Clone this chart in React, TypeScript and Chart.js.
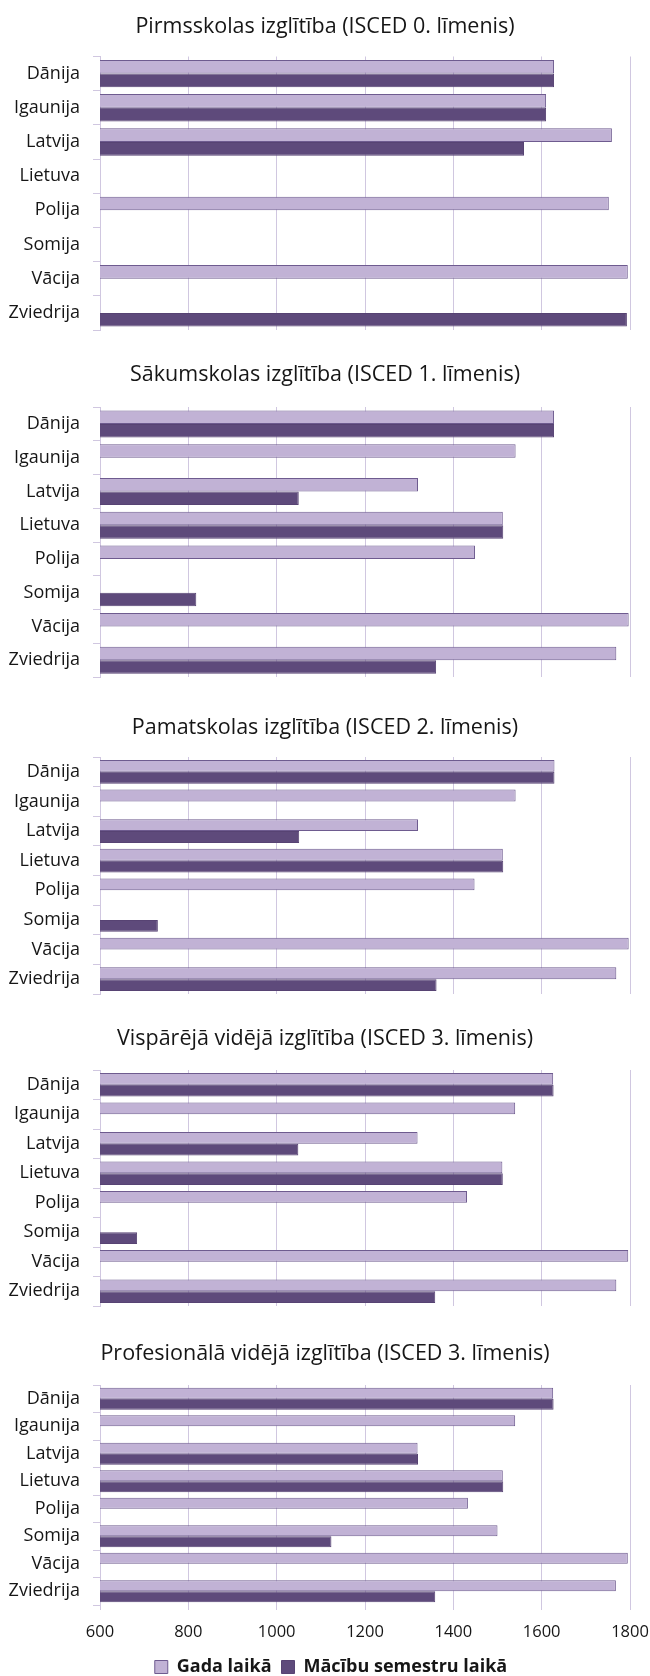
import React, { useEffect, useRef } from 'react';
import { Chart, registerables } from 'chart.js';

Chart.register(...registerables);

// ---- Data ----
const categories = ['Dānija', 'Igaunija', 'Latvija', 'Lietuva', 'Polija', 'Somija', 'Vācija', 'Zviedrija'];

const panelTitles = [
  'Pirmsskolas izglītība (ISCED 0. līmenis)',
  'Sākumskolas izglītība (ISCED 1. līmenis)',
  'Pamatskolas izglītība (ISCED 2. līmenis)',
  'Vispārējā vidējā izglītība (ISCED 3. līmenis)',
  'Profesionālā vidējā izglītība (ISCED 3. līmenis)',
];

const seriesNames = ['Gada laikā', 'Mācību semestru laikā'];

// Gada laikā (per year)
const yearPreschool = [1628, 1610, 1759, null, 1752, null, 1795, null];
const yearPrimary = [1628, 1541, 1320, 1512, 1449, null, 1797, 1769];
const yearLowerSec = [1629, 1541, 1320, 1512, 1448, null, 1797, 1769];
const yearGeneralUpper = [1626, 1540, 1319, 1511, 1431, null, 1796, 1769];
const yearVocational = [1626, 1540, 1319, 1512, 1433, 1500, 1795, 1768];

// Mācību semestru laikā (during semesters)
const semPreschool = [1628, 1610, 1560, null, null, null, null, 1793];
const semPrimary = [1628, null, 1050, 1513, null, 818, null, 1361];
const semLowerSec = [1629, null, 1051, 1513, null, 731, null, 1362];
const semGeneralUpper = [1627, null, 1049, 1512, null, 684, null, 1359];
const semVocational = [1627, null, 1320, 1513, null, 1124, null, 1359];

const xMin = 600;
const xMax = 1800;
const xStep = 200;

const yearSeries = [yearPreschool, yearPrimary, yearLowerSec, yearGeneralUpper, yearVocational];
const semSeries = [semPreschool, semPrimary, semLowerSec, semGeneralUpper, semVocational];

// ---- Layout (canvas placement per panel) ----
const layoutPanels = [
  { top: 4, height: 328, titleGap: 16.7 },
  { top: 352, height: 327, titleGap: 19.2 },
  { top: 705, height: 291, titleGap: 16.2 },
  { top: 1016, height: 292, titleGap: 18.2 },
  { top: 1331, height: 355, titleGap: 18.2 },
];

const FONT = "'Open Sans', 'Noto Sans', sans-serif";
const LIGHT = '#C1B2D5';
const LIGHT_BORDER = '#6E5B8F';
const DARK = '#5E4A7B';
const DARK_BORDER = '#574373';
const GRID = '#D0C7E0';
const TEXT = '#161616';

const layoutTweaks = {
  id: 'layoutTweaks',
  afterLayout(chart: any) {
    // let y-axis labels draw into the left padding
    if (chart.scales.y) chart.scales.y.left = 0;
    // nudge the legend slightly right, as in the original
    const lg = chart.legend;
    if (lg && lg.options && lg.options.display) {
      lg.left += 6;
      lg.right += 6;
    }
  },
};

function makeConfig(i: number): any {
  const last = i === layoutPanels.length - 1;
  return {
    type: 'bar',
    data: {
      labels: categories,
      datasets: [
        {
          label: seriesNames[0],
          data: yearSeries[i],
          backgroundColor: LIGHT,
          borderColor: LIGHT_BORDER,
          borderWidth: 1,
          categoryPercentage: 0.8,
          barPercentage: 1.0,
        },
        {
          label: seriesNames[1],
          data: semSeries[i],
          backgroundColor: DARK,
          borderColor: DARK_BORDER,
          borderWidth: 1,
          categoryPercentage: 0.8,
          barPercentage: 1.0,
        },
      ],
    },
    plugins: [layoutTweaks],
    options: {
      indexAxis: 'y',
      animation: false,
      responsive: false,
      maintainAspectRatio: false,
      layout: { padding: { left: 20, right: 20, top: 0, bottom: last ? 0 : 2 } },
      scales: {
        x: {
          min: xMin,
          max: xMax,
          ticks: {
            display: last,
            stepSize: xStep,
            padding: 12,
            color: TEXT,
            font: { family: FONT, size: 16.5 },
            callback: (v: any) => String(v),
          },
          grid: {
            color: GRID,
            lineWidth: 1,
            drawTicks: last,
            tickLength: 5,
          },
          border: { display: false },
          afterFit: (s: any) => {
            s.height = last ? 43 : 0;
            s.paddingLeft = 0;
            s.paddingRight = 0;
          },
        },
        y: {
          ticks: {
            color: TEXT,
            padding: 13,
            font: { family: FONT, size: 18 },
          },
          grid: {
            offset: true,
            drawOnChartArea: false,
            drawTicks: true,
            tickLength: 7,
            color: GRID,
          },
          border: { display: true, color: GRID },
          afterFit: (s: any) => {
            s.width = 80;
            s.paddingTop = 0;
            s.paddingBottom = 0;
          },
        },
      },
      plugins: {
        title: {
          display: true,
          text: panelTitles[i],
          color: TEXT,
          font: { family: FONT, size: 21.5, weight: 'normal', lineHeight: 1.2 },
          padding: { top: 10, bottom: layoutPanels[i].titleGap },
        },
        legend: {
          display: last,
          position: 'bottom',
          labels: {
            color: TEXT,
            boxWidth: 13,
            boxHeight: 13,
            padding: 10,
            font: { family: FONT, size: 18, weight: 'bold' },
          },
        },
        tooltip: { enabled: false },
      },
    },
  };
}

export default function App() {
  const refs = useRef<(HTMLCanvasElement | null)[]>([]);

  useEffect(() => {
    let cancelled = false;
    const charts: Chart[] = [];
    const build = () => {
      if (cancelled) return;
      layoutPanels.forEach((_, i) => {
        const c = refs.current[i];
        if (c) charts.push(new Chart(c, makeConfig(i)));
      });
    };
    const fontsApi: any = (document as any).fonts;
    if (fontsApi && fontsApi.load) {
      Promise.all([
        fontsApi.load("18px 'Open Sans'"),
        fontsApi.load("bold 18px 'Open Sans'"),
      ]).then(build, build);
    } else {
      build();
    }
    return () => {
      cancelled = true;
      charts.forEach((ch) => ch.destroy());
    };
  }, []);

  return (
    <div
      style={{
        position: 'absolute',
        left: 0,
        top: 0,
        width: 650,
        height: 1676,
        overflow: 'hidden',
        background: '#ffffff',
      }}
    >
      {layoutPanels.map((p, i) => (
        <canvas
          key={i}
          ref={(el) => { refs.current[i] = el; }}
          width={650}
          height={p.height}
          style={{ position: 'absolute', left: 0, top: p.top, width: 650, height: p.height }}
        />
      ))}
    </div>
  );
}
